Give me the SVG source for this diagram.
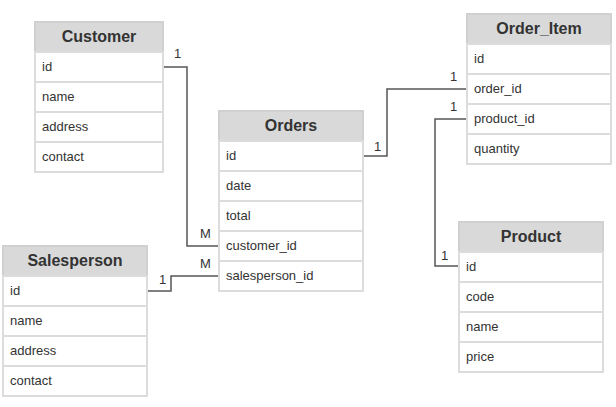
<svg xmlns="http://www.w3.org/2000/svg" width="616" height="407" viewBox="0 0 616 407">
<style>
.hd{fill:#d9d9d9;stroke:#d0d0d0;stroke-width:2}
.rw{fill:#fff;stroke:#dcdcdc;stroke-width:2}
.ht{font-family:"Liberation Sans",Arial,sans-serif;font-size:16px;font-weight:bold;fill:#333;text-anchor:middle}
.t{font-family:"Liberation Sans",Arial,sans-serif;font-size:13px;fill:#333}
.c{fill:none;stroke:#555;stroke-width:1.5}
.l{font-family:"Liberation Sans",Arial,sans-serif;font-size:13px;fill:#333}
</style>
<rect width="616" height="407" fill="#fff"/>
<g id="connectors">
<polyline class="c" points="163,67 187,67 187,246 219,246"/>
<polyline class="c" points="147,291 171,291 171,276 219,276"/>
<polyline class="c" points="363,156 387,156 387,89 467,89"/>
<polyline class="c" points="467,119 435,119 435,266 459,266"/>
<text class="l" x="174" y="58">1</text>
<text class="l" x="200" y="238">M</text>
<text class="l" x="159" y="284">1</text>
<text class="l" x="200" y="268">M</text>
<text class="l" x="374" y="151">1</text>
<text class="l" x="450" y="81">1</text>
<text class="l" x="450" y="111">1</text>
<text class="l" x="441" y="260">1</text>
</g>
<g id="Customer">
<rect class="hd" x="35" y="22" width="128" height="30"/>
<text class="ht" x="99" y="42">Customer</text>
<rect class="rw" x="35" y="52" width="128" height="30"/>
<rect class="rw" x="35" y="82" width="128" height="30"/>
<rect class="rw" x="35" y="112" width="128" height="30"/>
<rect class="rw" x="35" y="142" width="128" height="30"/>
<text class="t" x="42" y="71">id</text>
<text class="t" x="42" y="101">name</text>
<text class="t" x="42" y="131">address</text>
<text class="t" x="42" y="161">contact</text>
</g>
<g id="Orders">
<rect class="hd" x="219" y="111" width="144" height="30"/>
<text class="ht" x="291" y="131">Orders</text>
<rect class="rw" x="219" y="141" width="144" height="30"/>
<rect class="rw" x="219" y="171" width="144" height="30"/>
<rect class="rw" x="219" y="201" width="144" height="30"/>
<rect class="rw" x="219" y="231" width="144" height="30"/>
<rect class="rw" x="219" y="261" width="144" height="30"/>
<text class="t" x="226" y="160">id</text>
<text class="t" x="226" y="190">date</text>
<text class="t" x="226" y="220">total</text>
<text class="t" x="226" y="250">customer_id</text>
<text class="t" x="226" y="280">salesperson_id</text>
</g>
<g id="Order_Item">
<rect class="hd" x="467" y="14" width="144" height="30"/>
<text class="ht" x="539" y="34">Order_Item</text>
<rect class="rw" x="467" y="44" width="144" height="30"/>
<rect class="rw" x="467" y="74" width="144" height="30"/>
<rect class="rw" x="467" y="104" width="144" height="30"/>
<rect class="rw" x="467" y="134" width="144" height="30"/>
<text class="t" x="474" y="63">id</text>
<text class="t" x="474" y="93">order_id</text>
<text class="t" x="474" y="123">product_id</text>
<text class="t" x="474" y="153">quantity</text>
</g>
<g id="Salesperson">
<rect class="hd" x="3" y="246" width="144" height="30"/>
<text class="ht" x="75" y="266">Salesperson</text>
<rect class="rw" x="3" y="276" width="144" height="30"/>
<rect class="rw" x="3" y="306" width="144" height="30"/>
<rect class="rw" x="3" y="336" width="144" height="30"/>
<rect class="rw" x="3" y="366" width="144" height="30"/>
<text class="t" x="10" y="295">id</text>
<text class="t" x="10" y="325">name</text>
<text class="t" x="10" y="355">address</text>
<text class="t" x="10" y="385">contact</text>
</g>
<g id="Product">
<rect class="hd" x="459" y="222" width="144" height="30"/>
<text class="ht" x="531" y="242">Product</text>
<rect class="rw" x="459" y="252" width="144" height="30"/>
<rect class="rw" x="459" y="282" width="144" height="30"/>
<rect class="rw" x="459" y="312" width="144" height="30"/>
<rect class="rw" x="459" y="342" width="144" height="30"/>
<text class="t" x="466" y="271">id</text>
<text class="t" x="466" y="301">code</text>
<text class="t" x="466" y="331">name</text>
<text class="t" x="466" y="361">price</text>
</g>
</svg>
